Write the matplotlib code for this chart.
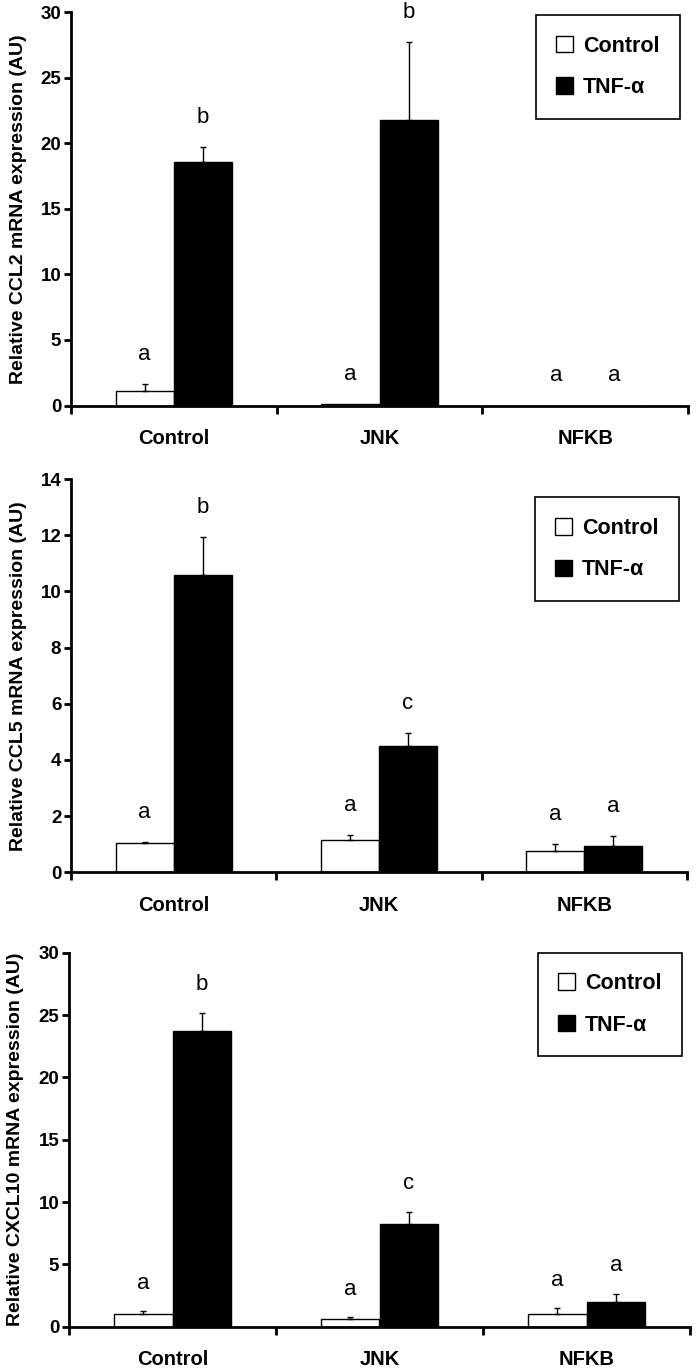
import matplotlib
matplotlib.use("Agg")
import matplotlib.pyplot as plt
from matplotlib.patches import Patch
import numpy as np

plt.rcParams['font.family'] = ['Liberation Sans', 'DejaVu Sans']

categories = ["Control", "JNK", "NFKB"]
series_names = ["Control", "TNF-\u03b1"]

# Panel 1: CCL2
ccl2_ctrl = [1.1, 0.15, 0.0]
ccl2_ctrl_err = [0.55, 0.0, 0.0]
ccl2_tnf = [18.6, 21.8, 0.0]
ccl2_tnf_err = [1.1, 5.9, 0.0]
ccl2_ctrl_lbl = ["a", "a", "a"]
ccl2_tnf_lbl = ["b", "b", "a"]

# Panel 2: CCL5
ccl5_ctrl = [1.03, 1.14, 0.77]
ccl5_ctrl_err = [0.05, 0.2, 0.25]
ccl5_tnf = [10.6, 4.5, 0.94]
ccl5_tnf_err = [1.35, 0.45, 0.35]
ccl5_ctrl_lbl = ["a", "a", "a"]
ccl5_tnf_lbl = ["b", "c", "a"]

# Panel 3: CXCL10
cxcl10_ctrl = [1.0, 0.64, 1.04]
cxcl10_ctrl_err = [0.25, 0.1, 0.43]
cxcl10_tnf = [23.7, 8.2, 1.96]
cxcl10_tnf_err = [1.5, 1.0, 0.7]
cxcl10_ctrl_lbl = ["a", "a", "a"]
cxcl10_tnf_lbl = ["b", "c", "a"]

panels = [
    dict(ylabel="Relative CCL2 mRNA expression (AU)", ymax=30, step=5,
         ctrl=ccl2_ctrl, ctrl_err=ccl2_ctrl_err, tnf=ccl2_tnf, tnf_err=ccl2_tnf_err,
         cl=ccl2_ctrl_lbl, tl=ccl2_tnf_lbl,
         rect=[71/699, 1-405.5/1371, 617/699, 393.5/1371], leg_top=0.992),
    dict(ylabel="Relative CCL5 mRNA expression (AU)", ymax=14, step=2,
         ctrl=ccl5_ctrl, ctrl_err=ccl5_ctrl_err, tnf=ccl5_tnf, tnf_err=ccl5_tnf_err,
         cl=ccl5_ctrl_lbl, tl=ccl5_tnf_lbl,
         rect=[71/699, 1-872.3/1371, 616/699, 393.3/1371], leg_top=0.953),
    dict(ylabel="Relative CXCL10 mRNA expression (AU)", ymax=30, step=5,
         ctrl=cxcl10_ctrl, ctrl_err=cxcl10_ctrl_err, tnf=cxcl10_tnf, tnf_err=cxcl10_tnf_err,
         cl=cxcl10_ctrl_lbl, tl=cxcl10_tnf_lbl,
         rect=[69/699, 1-1326.7/1371, 621/699, 374/1371], leg_top=1.0),
]

fig = plt.figure(figsize=(6.99, 13.71), dpi=100)
x = np.arange(len(categories))
w = 0.283

for p in panels:
    ax = fig.add_axes(p["rect"])
    ctrl = np.array(p["ctrl"]); tnf = np.array(p["tnf"])
    ce = np.array(p["ctrl_err"]); te = np.array(p["tnf_err"])
    ax.bar(x - w/2, ctrl, w, color="white", edgecolor="black", linewidth=1.0, zorder=2)
    ax.bar(x + w/2, tnf, w, color="black", edgecolor="black", linewidth=1.0, zorder=2)
    for xs, vals, errs in [(x - w/2, ctrl, ce), (x + w/2, tnf, te)]:
        m = errs > 0
        ax.errorbar(xs[m], vals[m], yerr=[np.zeros(m.sum()), errs[m]], fmt="none",
                    ecolor="black", elinewidth=1.0, capsize=2.5, capthick=1.0, zorder=3)
    pad = 0.075 * p["ymax"]
    for xs, vals, errs, lbls in [(x - w/2, ctrl, ce, p["cl"]), (x + w/2, tnf, te, p["tl"])]:
        for xi, v, e, l in zip(xs, vals, errs, lbls):
            ax.text(xi, v + e + pad, l, ha="center", va="center", fontsize=16)
    ax.set_xlim(-0.5, 2.5)
    ax.set_ylim(0, p["ymax"])
    ax.set_yticks(np.arange(0, p["ymax"] + 0.01, p["step"]))
    ax.set_xticks(x)
    ax.set_xticklabels(categories, fontsize=14.5, fontweight="bold")
    ax.set_xticks([-0.5, 0.5, 1.5, 2.5], minor=True)
    ax.tick_params(axis="x", which="major", length=0, pad=17)
    ax.tick_params(axis="x", which="minor", length=6, width=2, direction="out")
    ax.tick_params(axis="y", which="major", length=5, width=2, direction="out",
                   labelsize=13.5, pad=2)
    for lbl in ax.get_yticklabels():
        lbl.set_fontweight("bold")
    for sp in ["top", "right"]:
        ax.spines[sp].set_visible(False)
    for sp in ["left", "bottom"]:
        ax.spines[sp].set_linewidth(2)
    ax.set_ylabel(p["ylabel"], fontsize=14, fontweight="bold")
    ax.yaxis.set_label_coords(-0.072, 0.5)
    handles = [Patch(facecolor="white", edgecolor="black", linewidth=1.0),
               Patch(facecolor="black", edgecolor="black", linewidth=1.0)]
    leg = ax.legend(handles, series_names, loc="upper right",
                    bbox_to_anchor=(0.987, p["leg_top"]), borderaxespad=0.0,
                    frameon=True, fancybox=False,
                    edgecolor="black", framealpha=1, handlelength=0.8, handleheight=0.8,
                    handletextpad=0.45, borderpad=0.95, labelspacing=0.95,
                    prop={"size": 15.5, "weight": "bold"})
    leg.get_frame().set_linewidth(1.2)

fig.savefig("out.png", dpi=100)
